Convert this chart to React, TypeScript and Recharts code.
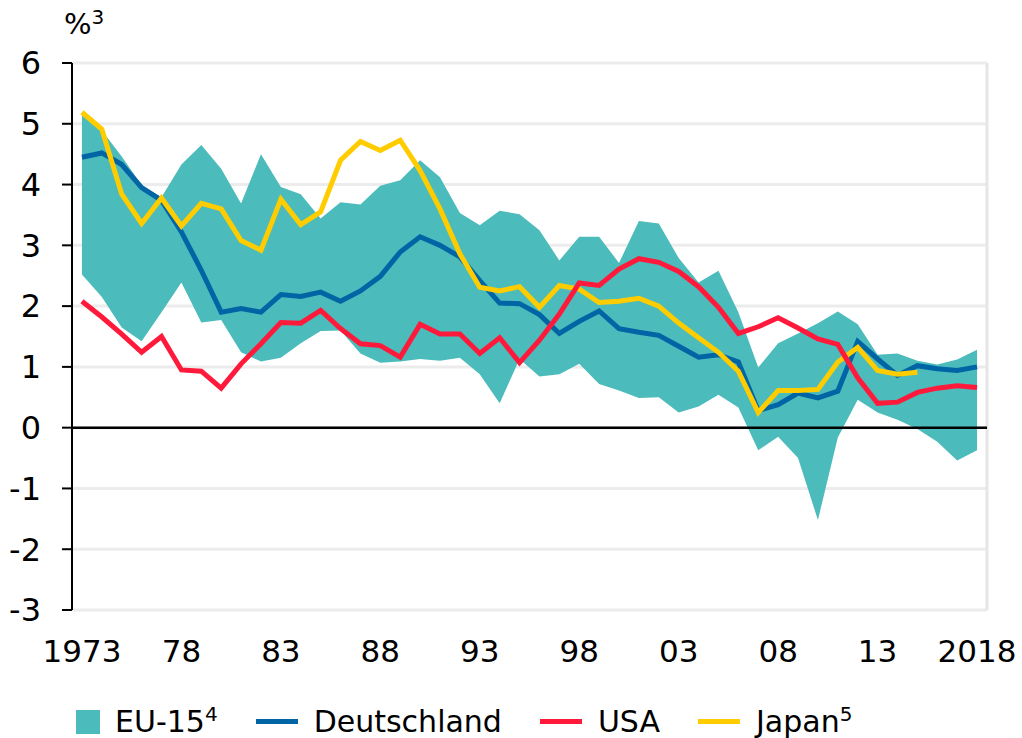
import {
  ComposedChart,
  Area,
  Line,
  XAxis,
  YAxis,
  CartesianGrid,
  ReferenceLine,
} from 'recharts';

const years = Array.from({ length: 46 }, (_, i) => 1973 + i);

const eu15Low = [
  2.52, 2.15, 1.65, 1.42, 1.9, 2.39, 1.73, 1.77, 1.24, 1.09,
  1.15, 1.39, 1.59, 1.6, 1.22, 1.07, 1.09, 1.13, 1.1, 1.15,
  0.88, 0.4, 1.13, 0.84, 0.88, 1.05, 0.72, 0.61, 0.49, 0.5,
  0.25, 0.35, 0.54, 0.33, -0.37, -0.15, -0.5, -1.52, -0.16, 0.46,
  0.25, 0.13, -0.02, -0.23, -0.54, -0.37,
];

const eu15High = [
  5.14, 4.89, 4.46, 3.99, 3.79, 4.33, 4.65, 4.26, 3.69, 4.5,
  3.96, 3.84, 3.44, 3.71, 3.67, 3.98, 4.07, 4.4, 4.12, 3.53,
  3.33, 3.57, 3.51, 3.25, 2.75, 3.14, 3.14, 2.71, 3.4, 3.36,
  2.79, 2.39, 2.58, 1.9, 0.99, 1.39, 1.55, 1.72, 1.91, 1.7,
  1.2, 1.22, 1.1, 1.04, 1.12, 1.28,
];

const deutschland = [
  4.45, 4.52, 4.33, 3.95, 3.74, 3.22, 2.59, 1.9, 1.96, 1.9,
  2.19, 2.16, 2.23, 2.08, 2.25, 2.49, 2.89, 3.14, 3.0, 2.81,
  2.42, 2.05, 2.04, 1.86, 1.55, 1.75, 1.92, 1.63, 1.57, 1.52,
  1.34, 1.16, 1.2, 1.08, 0.28, 0.38, 0.57, 0.49, 0.6, 1.42,
  1.13, 0.86, 1.02, 0.97, 0.94, 1.0,
];

const usa = [
  2.08, 1.82, 1.54, 1.24, 1.5, 0.95, 0.93, 0.65, 1.05, 1.38,
  1.73, 1.72, 1.93, 1.63, 1.38, 1.35, 1.16, 1.7, 1.54, 1.54,
  1.22, 1.48, 1.07, 1.44, 1.87, 2.38, 2.34, 2.61, 2.78, 2.72,
  2.57, 2.32, 1.98, 1.55, 1.66, 1.81, 1.64, 1.46, 1.37, 0.82,
  0.4, 0.42, 0.58, 0.65, 0.69, 0.66,
];

const japan = [
  5.19, 4.91, 3.84, 3.36, 3.78, 3.32, 3.69, 3.6, 3.08, 2.92,
  3.76, 3.34, 3.55, 4.4, 4.71, 4.56, 4.73, 4.23, 3.6, 2.86,
  2.31, 2.25, 2.32, 1.98, 2.34, 2.28, 2.06, 2.08, 2.13, 2.0,
  1.72, 1.48, 1.24, 0.93, 0.25, 0.61, 0.61, 0.63, 1.08, 1.32,
  0.94, 0.88, 0.91, null, null, null,
];

const labelYears = [1973, 1978, 1983, 1988, 1993, 1998, 2003, 2008, 2013, 2018];
const labelTexts = ['1973', '78', '83', '88', '93', '98', '03', '08', '13', '2018'];
const yTicks = [-3, -2, -1, 0, 1, 2, 3, 4, 5, 6];

const TEAL = '#4bbbbb';
const BLUE = '#0064a5';
const RED = '#ff1a3c';
const YELLOW = '#ffcc00';
const FONT = '"DejaVu Sans", sans-serif';

const data = years.map((year, i) => ({
  year,
  eu: [eu15Low[i], eu15High[i]],
  de: deutschland[i],
  us: usa[i],
  jp: japan[i],
}));

// tick marks sit on the borders between years
const boundaries = [...years.map((y) => y - 0.5), years[years.length - 1] + 0.5];
const domain: [number, number] = [boundaries[0], boundaries[boundaries.length - 1]];

const supStyle = { fontSize: 20, verticalAlign: 'top', position: 'relative' as const, top: -2 };

function LegendLine({ color }: { color: string }) {
  return <span style={{ display: 'inline-block', width: 42, height: 5, background: color, marginRight: 16 }} />;
}

export default function App() {
  return (
    <div style={{ position: 'absolute', left: 0, top: 0, width: 1022, height: 738, background: '#fff', fontFamily: FONT }}>
      <div style={{ position: 'absolute', left: 64, top: 7, fontSize: 29, color: '#000' }}>
        %<span style={supStyle}>3</span>
      </div>
      <ComposedChart width={1022} height={680} data={data} margin={{ top: 63, right: 35, left: 12, bottom: 0 }}>
        <CartesianGrid vertical={false} stroke="#ececec" strokeWidth={3} xAxisId="x" />
        <XAxis
          xAxisId="x"
          dataKey="year"
          type="number"
          domain={domain}
          ticks={boundaries}
          tick={false}
          height={0}
          tickSize={10}
          axisLine={{ stroke: '#000', strokeWidth: 2 }}
          tickLine={{ stroke: '#000', strokeWidth: 2 }}
          allowDataOverflow
        />
        <XAxis
          xAxisId="lab"
          dataKey="year"
          type="number"
          domain={domain}
          ticks={labelYears}
          tickFormatter={(v: number) => labelTexts[labelYears.indexOf(v)]}
          axisLine={false}
          tickLine={false}
          tickSize={10}
          tickMargin={20}
          height={70}
          interval={0}
          tick={{ fontSize: 31, fill: '#000', fontFamily: FONT }}
          allowDataOverflow
        />
        <YAxis
          width={60}
          domain={[-3, 6]}
          ticks={yTicks}
          interval={0}
          tickSize={10}
          tickMargin={21}
          axisLine={{ stroke: '#000', strokeWidth: 2 }}
          tickLine={{ stroke: '#000', strokeWidth: 2 }}
          tick={{ fontSize: 32, fill: '#000', fontFamily: FONT }}
        />
        <ReferenceLine xAxisId="x" x={domain[1]} stroke="#e6e6e6" strokeWidth={3} />
        <Area
          xAxisId="lab"
          type="linear"
          dataKey="eu"
          fill={TEAL}
          fillOpacity={1}
          stroke="none"
          isAnimationActive={false}
        />
        <ReferenceLine xAxisId="x" y={0} stroke="#000" strokeWidth={2.5} />
        <Line xAxisId="x" type="linear" dataKey="de" stroke={BLUE} strokeWidth={5} dot={false} isAnimationActive={false} />
        <Line xAxisId="x" type="linear" dataKey="jp" stroke={YELLOW} strokeWidth={5} dot={false} isAnimationActive={false} />
        <Line xAxisId="x" type="linear" dataKey="us" stroke={RED} strokeWidth={5} dot={false} isAnimationActive={false} />
      </ComposedChart>
      <div style={{ position: 'absolute', left: 76, top: 704, display: 'flex', alignItems: 'center', fontSize: 30, color: '#000', whiteSpace: 'nowrap' }}>
        <span style={{ display: 'inline-block', width: 24, height: 24, background: TEAL, marginRight: 15 }} />
        <span>EU-15<span style={supStyle}>4</span></span>
        <span style={{ width: 38 }} />
        <LegendLine color={BLUE} />
        <span>Deutschland</span>
        <span style={{ width: 38 }} />
        <LegendLine color={RED} />
        <span>USA</span>
        <span style={{ width: 38 }} />
        <LegendLine color={YELLOW} />
        <span>Japan<span style={supStyle}>5</span></span>
      </div>
    </div>
  );
}
